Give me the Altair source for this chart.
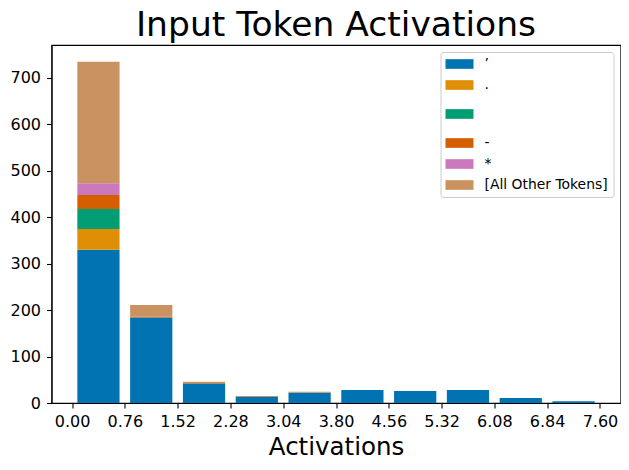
import altair as alt
import pandas as pd

# ---- data ----
bin_edges = [0.00, 0.76, 1.52, 2.28, 3.04, 3.80, 4.56, 5.32, 6.08, 6.84, 7.60]
tokens = ["\u2019", ".", "\n", "-", "\u00a0*", "[All Other Tokens]"]
colors = ["#0173b2", "#de8f05", "#029e73", "#d55e00", "#cc78bc", "#ca9161"]

tok_quote = [330, 184, 42, 13, 22, 28, 26, 28, 11, 4]
tok_dot = [45, 0, 0, 0, 0, 0, 0, 0, 0, 0]
tok_newline = [43, 0, 0, 0, 0, 0, 0, 0, 0, 0]
tok_dash = [30, 2, 1, 0, 0, 0, 0, 0, 0, 0]
tok_star = [25, 0, 0, 0, 0, 0, 0, 0, 0, 0]
tok_other = [262, 25, 3, 2, 2, 0, 0, 0, 0, 0]
y_ticks = [0, 100, 200, 300, 400, 500, 600, 700]

series = [tok_quote, tok_dot, tok_newline, tok_dash, tok_star, tok_other]

rows = []
for i in range(len(bin_edges) - 1):
    lo, hi = bin_edges[i], bin_edges[i + 1]
    c = (lo + hi) / 2
    w = (hi - lo) * 0.8
    for j, (tok, vals) in enumerate(zip(tokens, series)):
        rows.append({"bin": i, "start": c - w / 2, "end": c + w / 2,
                     "token": tok, "idx": j, "count": vals[i]})
df = pd.DataFrame(rows)

FONT = "DejaVu Sans"

label_expr = ("datum.value == '\\n' ? ['\u00a0', '\u00a0'] : "
              "datum.value == '.' ? ['.', '\u00a0'] : datum.label")

chart = alt.Chart(df).transform_stack(
    stack="count", groupby=["bin"], as_=["y0", "y1"],
    sort=[alt.SortField("idx", order="ascending")]
).mark_bar(strokeWidth=0).encode(
    x=alt.X("start:Q",
            scale=alt.Scale(domain=[-0.296, 7.896], nice=False, zero=False),
            axis=alt.Axis(values=bin_edges, format=".2f", title="Activations",
                          titleFontSize=24.5, titleFontWeight="normal",
                          titleBaseline="alphabetic", titleY=51,
                          labelFontSize=16, labelPadding=5, tickSize=5,
                          grid=False, labelFlush=False)),
    x2="end:Q",
    y=alt.Y("y0:Q",
            scale=alt.Scale(domain=[0, 771], nice=False),
            axis=alt.Axis(values=y_ticks, title=None, labelFontSize=16,
                          labelPadding=6, tickSize=5, grid=False)),
    y2="y1:Q",
    color=alt.Color("token:N",
                    scale=alt.Scale(domain=tokens, range=colors),
                    legend=alt.Legend(
                        title=None, orient="top-right", offset=7,
                        labelFont=FONT, labelFontSize=13.9, labelColor="black",
                        labelExpr=label_expr,
                        symbolType="M-2,-0.69H2V0.69H-2Z", symbolSize=196,
                        symbolStrokeWidth=0, symbolOpacity=1, symbolOffset=7,
                        labelOffset=18, rowPadding=7, padding=5,
                        strokeColor="#cccccc", fillColor="white",
                        cornerRadius=3)),
    order=alt.Order("idx:Q", sort="ascending"),
).properties(
    width=569, height=358,
    title=alt.TitleParams("Input Token Activations", font=FONT, fontSize=34.5,
                          fontWeight="normal", anchor="middle", frame="group",
                          offset=2, color="black"),
    autosize=alt.AutoSizeParams(type="none"),
    padding={"left": 43.5, "top": 37, "right": 0.5, "bottom": 57},
).configure(
    font=FONT,
    style={"guide-label": {"lineHeight": 8}}
).configure_view(
    stroke="black", strokeWidth=1.1
).configure_axis(
    labelFont=FONT, titleFont=FONT, labelColor="black", titleColor="black",
    domainColor="black", tickColor="black", domainWidth=1.1, tickWidth=1.1
)

chart.save("out.html", embed_options={"renderer": "svg", "actions": False})
